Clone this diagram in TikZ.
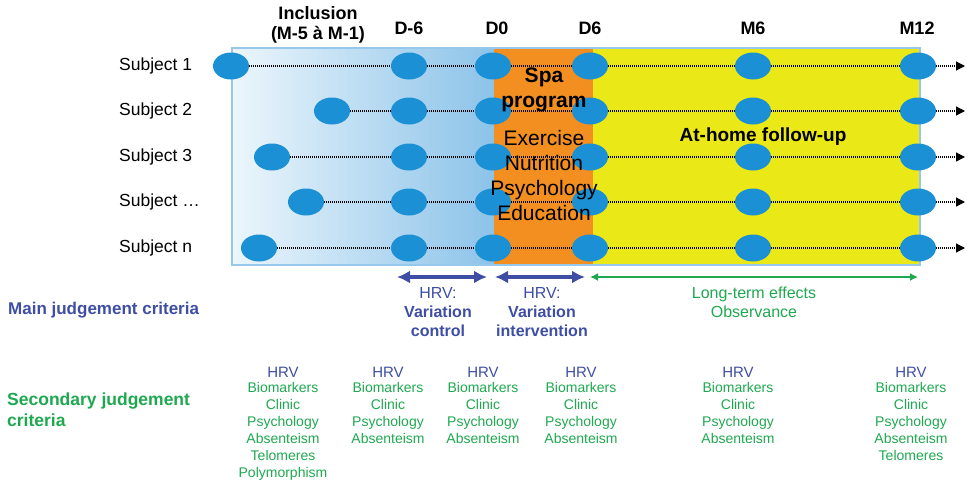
\documentclass[tikz,border=0pt]{standalone}
\usepackage{fontspec}
\setmainfont{Liberation Sans}
\usetikzlibrary{shapes.geometric,arrows.meta}
\definecolor{dotblue}{RGB}{28,144,212}
\definecolor{boxleft}{RGB}{236,246,252}
\definecolor{boxright}{RGB}{140,195,233}
\definecolor{boxedge}{RGB}{150,200,235}
\definecolor{spaorange}{RGB}{242,143,32}
\definecolor{homeyellow}{RGB}{234,232,22}
\definecolor{critblue}{RGB}{62,78,165}
\definecolor{critgreen}{RGB}{30,168,80}
\tikzset{
  visit/.style={ellipse,fill=dotblue,minimum width=36pt,minimum height=27pt,inner sep=0pt},
  track/.style={line width=1.2pt,dash pattern=on 1pt off 1pt},
  subj/.style={anchor=west,inner sep=0pt,font=\fontsize{17.5}{20}\selectfont},
  head/.style={align=center,inner sep=0pt,font=\bfseries\fontsize{18}{20}\selectfont},
  period/.style={critblue,line width=4pt,{Latex[length=13pt,width=13pt]}-{Latex[length=13pt,width=13pt]}},
  hrvlab/.style={critblue,align=center,inner sep=0pt,font=\fontsize{16}{19}\selectfont},
  hrvtop/.style={critblue,inner sep=0pt,font=\fontsize{15}{17}\selectfont},
  critlist/.style={critgreen,align=center,inner sep=0pt,anchor=north,font=\fontsize{14}{17}\selectfont}
}
\begin{document}
\begin{tikzpicture}[x=1pt,y=-1pt]
\useasboundingbox (0,0) rectangle (967,485);
% background periods
\shade[left color=boxleft,right color=boxright] (232,48) rectangle (494,265);
\fill[spaorange] (494,48) rectangle (593,265);
\fill[homeyellow] (593,48) rectangle (920,265);
\draw[boxedge,line width=1.2pt] (232,48) rectangle (920,265);

% subjects
\foreach \i/\yy/\sx/\lab in {1/66/231/Subject 1,2/111/332/Subject 2,3/157/272/Subject 3,4/202/306/Subject …,5/248/259/Subject n}{
  \node[subj] (lab\i) at (119,\yy) {\lab};
  \node[visit] (v\i-0) at (\sx,\yy) {};
  \foreach \j/\xx in {1/409,2/493,3/590,4/753,5/918}
    \node[visit] (v\i-\j) at (\xx,\yy) {};
  \coordinate (end\i) at (965,\yy);
  \foreach \j [count=\k from 0] in {1,...,5}
    \draw[track] (v\i-\k) -- (v\i-\j);
  \draw[track,-{Triangle[length=9pt,width=9pt]}] (v\i-5) -- (end\i);
}

% time points
\node[head] (incl) at (318,25) {Inclusion\\(M-5 à M-1)};
\node[head] (dm6) at (409,28) {D-6};
\node[head] (d0) at (497,28) {D0};
\node[head] (d6) at (590,28) {D6};
\node[head] (m6) at (753,28) {M6};
\node[head] (m12) at (917,28) {M12};

% phases
\node[align=center,inner sep=0pt,font=\bfseries\fontsize{21}{25}\selectfont] (spa) at (544,90) {Spa\\program};
\node[align=center,inner sep=0pt,font=\fontsize{21}{25}\selectfont] (acts) at (544,175) {Exercise\\Nutrition\\Psychology\\Education};
\node[inner sep=0pt,font=\bfseries\fontsize{19}{22}\selectfont] (home) at (763,137) {At-home follow-up};

% main criteria
\coordinate (pa1) at (397,277);
\coordinate (pa2) at (487,277);
\coordinate (pb1) at (495,277);
\coordinate (pb2) at (585,277);
\coordinate (pc1) at (590,277);
\coordinate (pc2) at (918,277);
\draw[period] (pa1) -- (pa2);
\draw[period] (pb1) -- (pb2);
\draw[critgreen,line width=1.5pt,{Latex[length=8pt,width=8pt]}-{Latex[length=8pt,width=8pt]}] (pc1) -- (pc2);
\node[hrvlab,anchor=north] (ctrl) at (438,287) {HRV:\\\textbf{Variation}\\\textbf{control}};
\node[hrvlab,anchor=north] (interv) at (542,287) {HRV:\\\textbf{Variation}\\\textbf{intervention}};
\node[hrvlab,critgreen,anchor=north] (longterm) at (754,287) {Long-term effects\\Observance};
\node[critblue,anchor=west,inner sep=0pt,font=\bfseries\fontsize{17}{20}\selectfont] (main) at (8,310) {Main judgement criteria};

% secondary criteria
\node[critgreen,anchor=west,align=left,inner sep=0pt,font=\bfseries\fontsize{17.5}{21}\selectfont] (second) at (7,410) {Secondary judgement\\criteria};
\foreach \c/\xx/\items in {1/283/{Biomarkers\\Clinic\\Psychology\\Absenteism\\Telomeres\\Polymorphism},
    2/388/{Biomarkers\\Clinic\\Psychology\\Absenteism},
    3/483/{Biomarkers\\Clinic\\Psychology\\Absenteism},
    4/581/{Biomarkers\\Clinic\\Psychology\\Absenteism},
    5/738/{Biomarkers\\Clinic\\Psychology\\Absenteism},
    6/911/{Biomarkers\\Clinic\\Psychology\\Absenteism\\Telomeres}}{
  \node[hrvtop] (hrv\c) at (\xx,372) {HRV};
  \node[critlist] (crit\c) at (\xx,382) {\items};
}
\end{tikzpicture}
\end{document}
